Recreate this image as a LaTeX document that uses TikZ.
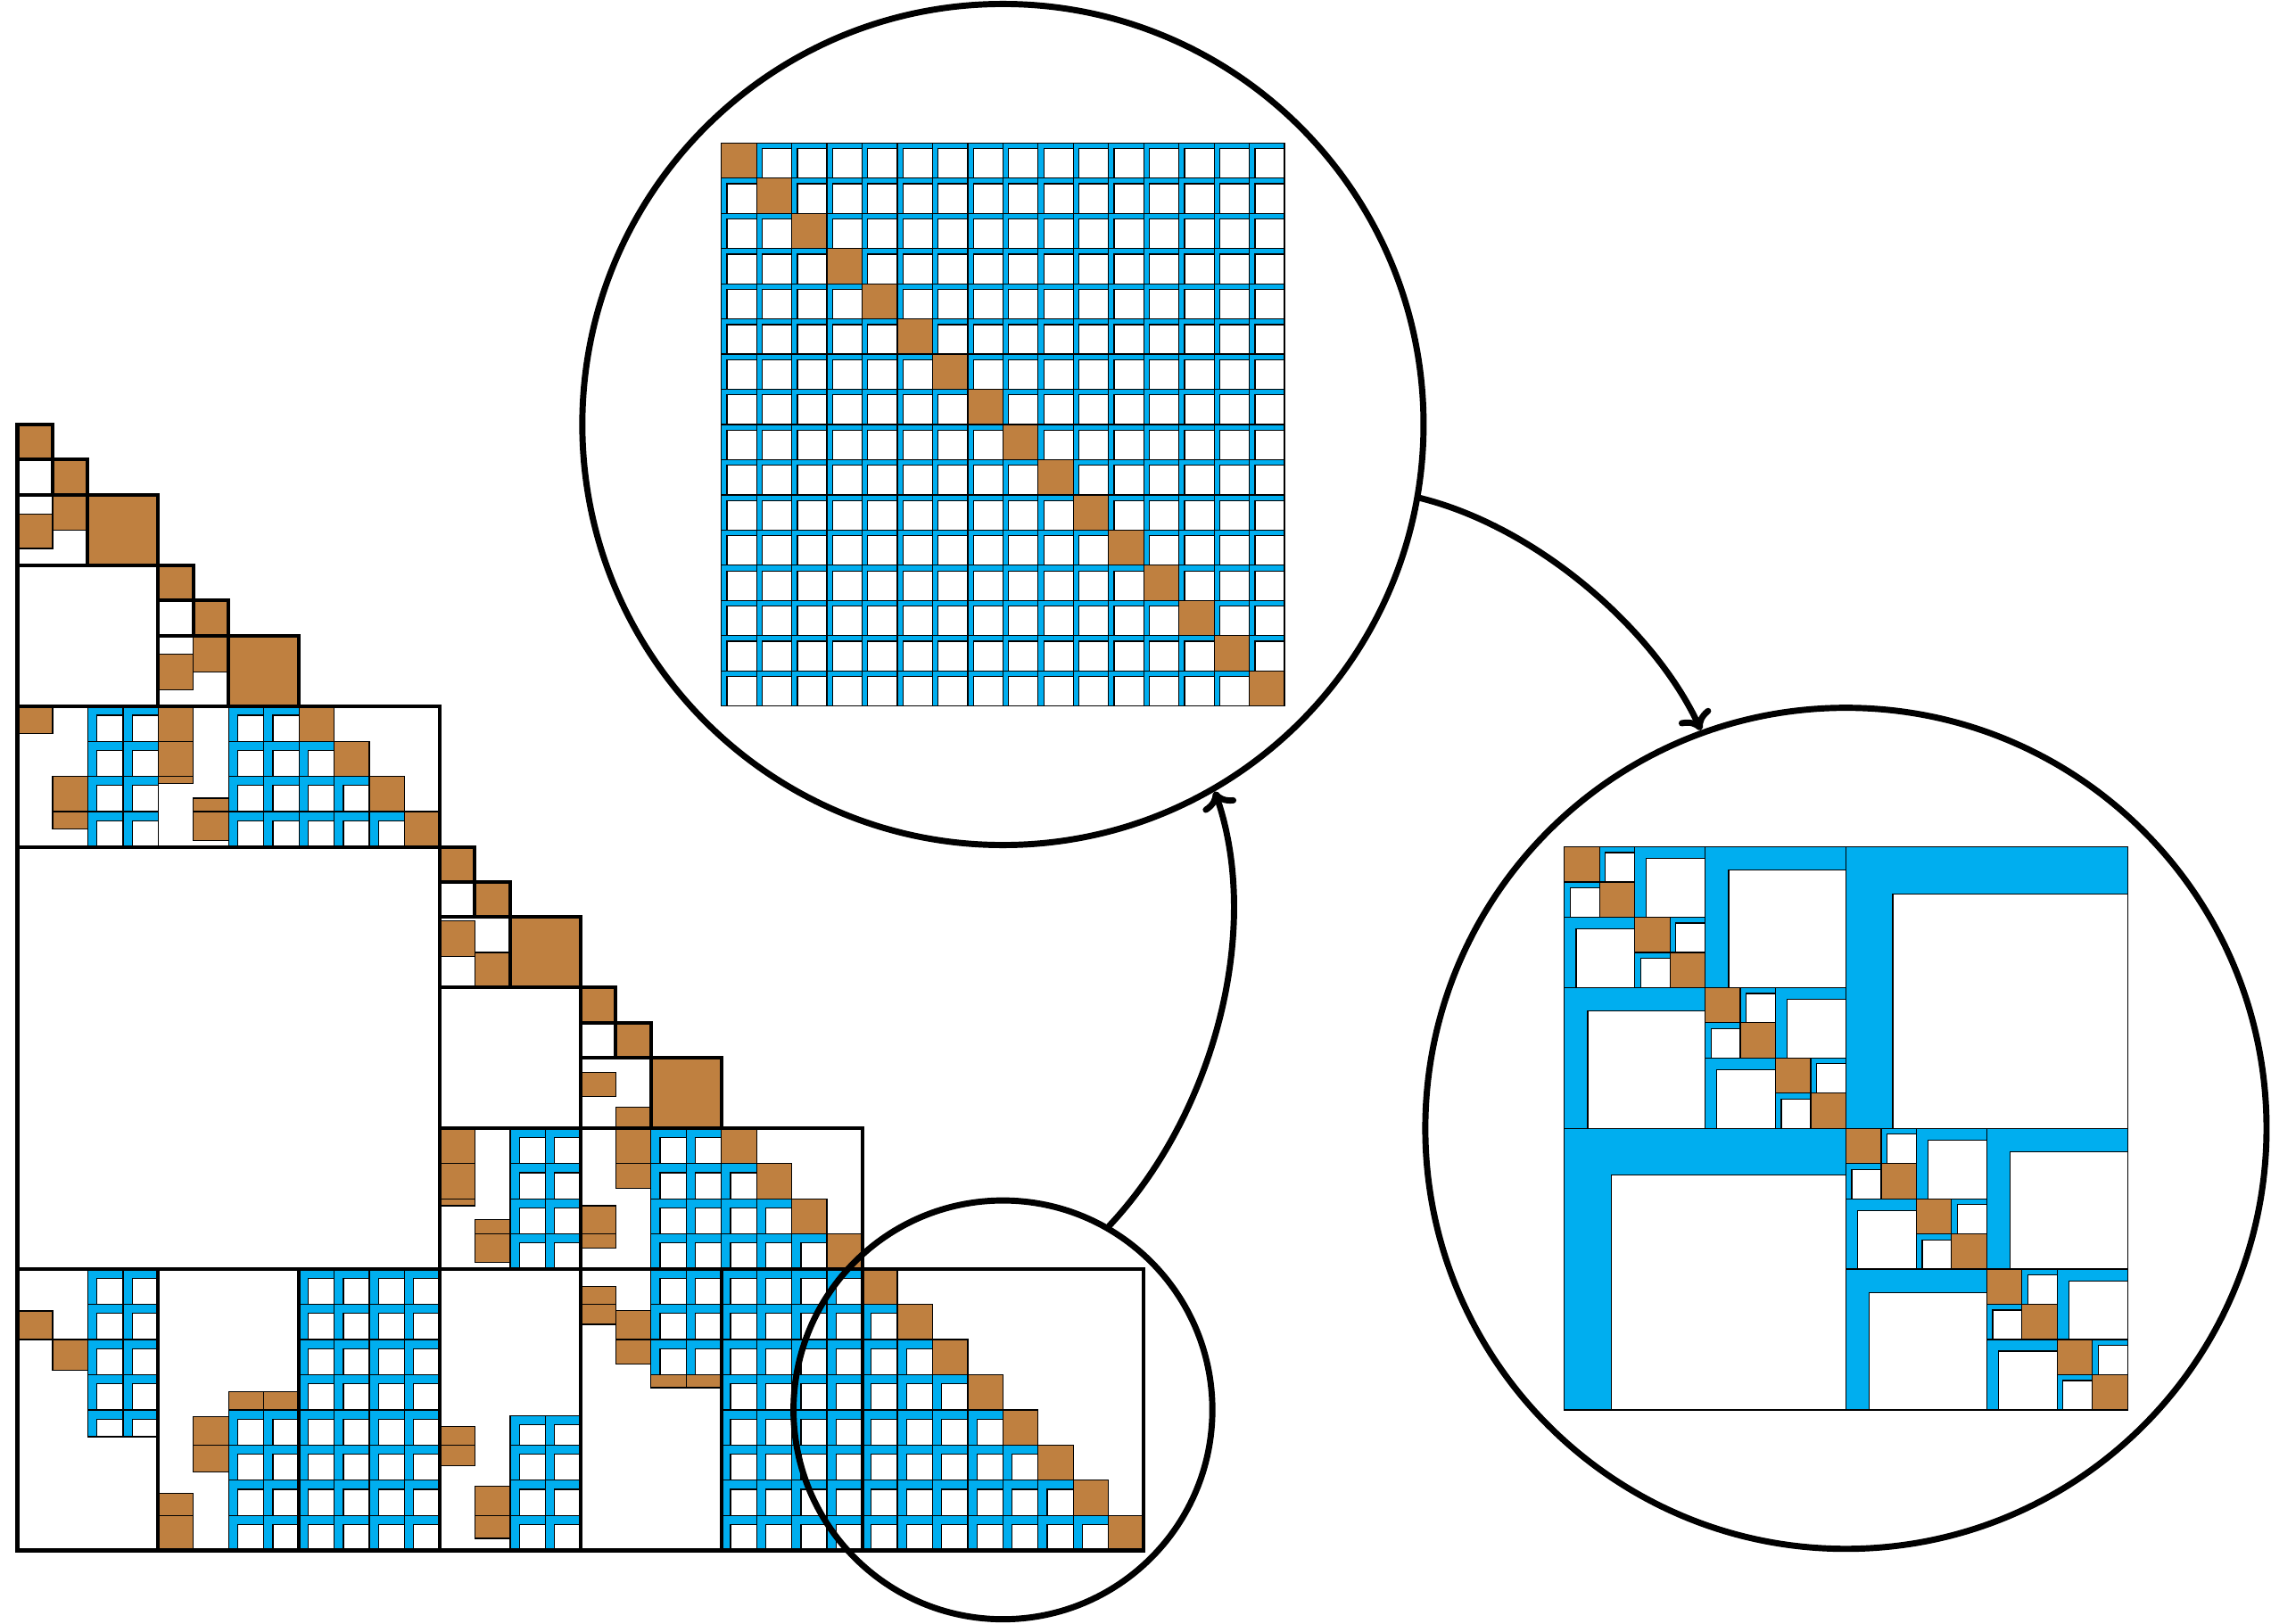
\documentclass[tikz,border=0pt]{standalone}
\usetikzlibrary{arrows.meta}
\definecolor{brn}{RGB}{191,128,64}
\definecolor{cyn}{RGB}{0,174,239}
\tikzset{
  thinln/.style={line width=0.9pt, draw=black},
  brcell/.style={thinln, fill=brn},
  blcell/.style={thinln, fill=cyn},
  whcell/.style={thinln, fill=white},
  blockln/.style={line width=2.9pt, draw=black, line join=miter},
  outerln/.style={line width=3.8pt, draw=black, line join=miter},
  ring/.style={draw, circle, line width=5pt, inner sep=0pt},
  conn/.style={line width=5pt, line cap=round, -{To[length=5mm,width=10mm]}},
}
% blue cell: column #1, rows #2..#3, strip .26
\newcommand\Bc[3]{%
  \filldraw[blcell] (#1,#2) rectangle ({#1+1},#3);
  \filldraw[whcell] ({#1+0.26},{#2+0.26}) rectangle ({#1+1},#3);}
% brown piece: column #1, rows #2..#3
\newcommand\Br[3]{\filldraw[brcell] (#1,#2) rectangle ({#1+1},#3);}
% blue grid: cols #1..#2, rows #3..#4 (inclusive)
\newcommand\Bgrid[4]{\foreach \cc in {#1,...,#2}{\foreach \rr in {#3,...,#4}{\Bc{\cc}{\rr}{\rr+1}}}}
% lower-triangular diagonal block from #1 to #2 (inclusive)
\newcommand\DTri[2]{\foreach \ii in {#1,...,#2}{\foreach \jj in {#1,...,#2}{%
  \ifnum\jj<\ii\relax \Bc{\jj}{\ii}{\ii+1}\fi
  \ifnum\jj=\ii\relax \Br{\ii}{\ii}{\ii+1}\fi}}}
\begin{document}
\begin{tikzpicture}[x=1cm,y=-1cm]
\useasboundingbox (-0.4942,-12.063) rectangle (64.027,34.085);
\fill[white] (-0.4942,-12.063) rectangle (64.027,34.085);

% ===== main lower-triangular matrix =====
\foreach \o in {0,12}{
  \Br{\o}{\o}{\o+1}
  \Br{\o+1}{\o+1}{\o+2}
  \filldraw[brcell] ({\o+2},{\o+2}) rectangle ({\o+4},{\o+4});
  \Br{\o+4}{\o+4}{\o+5}
  \Br{\o+5}{\o+5}{\o+6}
  \filldraw[brcell] ({\o+6},{\o+6}) rectangle ({\o+8},{\o+8});
}
% group A
\Br{0}{2.55}{3.52} \Br{1}{2}{3}
\Br{4}{6.52}{7.54} \Br{5}{6}{7.03}
\Br{0}{8}{8.79}
\Br{1}{10}{11} \Br{1}{11}{11.5}
\Br{4}{8}{9} \Br{4}{9}{10} \Br{4}{10}{10.2}
\Br{5}{10.62}{11} \Br{5}{11}{11.83}
\Bgrid{2}{3}{8}{11}
\Bgrid{6}{7}{8}{11}
\DTri{8}{11}
% group B
\Br{12}{14.11}{15.11} \Br{13}{15}{16}
\Br{16}{18.41}{19.09} \Br{17}{19.4}{20}
\Br{12}{20}{21} \Br{12}{21}{22} \Br{12}{22}{22.2}
\Br{13}{22.6}{23} \Br{13}{23}{23.8}
\Br{16}{22.2}{23} \Br{16}{23}{23.4}
\Br{17}{20}{21} \Br{17}{21}{21.7}
\Bgrid{14}{15}{20}{23}
\Bgrid{18}{19}{20}{23}
\DTri{20}{23}
% bottom block row 24..32
\Br{0}{25.19}{26} \Br{1}{26}{26.88}
\Bgrid{2}{3}{24}{27} \Bc{2}{28}{28.76} \Bc{3}{28}{28.76}
\Br{4}{30.37}{31} \Br{4}{31}{32}
\Br{5}{28.19}{29} \Br{5}{29}{29.77}
\Br{6}{27.49}{28} \Br{7}{27.49}{28}
\Bgrid{6}{7}{28}{31}
\Bgrid{8}{11}{24}{31}
\Br{12}{28.47}{29} \Br{12}{29}{29.58}
\Br{13}{30.17}{31} \Br{13}{31}{31.65}
\Bc{14}{28.17}{29} \Bc{15}{28.17}{29}
\Bgrid{14}{15}{29}{31}
\Br{16}{24.49}{25} \Br{16}{25}{25.57}
\Br{17}{25.17}{26} \Br{17}{26}{26.69}
\Bgrid{18}{19}{24}{26}
\Br{18}{27}{27.37} \Br{19}{27}{27.37}
\Bgrid{20}{23}{24}{31}
\DTri{24}{31}

% thick block outlines
\foreach \o in {0,12}{
  \draw[blockln] (\o,\o) rectangle ({\o+1},{\o+1});
  \draw[blockln] (\o,{\o+1}) rectangle ({\o+1},{\o+2});
  \draw[blockln] ({\o+1},{\o+1}) rectangle ({\o+2},{\o+2});
  \draw[blockln] (\o,{\o+2}) rectangle ({\o+2},{\o+4});
  \draw[blockln] ({\o+2},{\o+2}) rectangle ({\o+4},{\o+4});
  \draw[blockln] (\o,{\o+4}) rectangle ({\o+4},{\o+8});
  \draw[blockln] ({\o+4},{\o+4}) rectangle ({\o+5},{\o+5});
  \draw[blockln] ({\o+4},{\o+5}) rectangle ({\o+5},{\o+6});
  \draw[blockln] ({\o+5},{\o+5}) rectangle ({\o+6},{\o+6});
  \draw[blockln] ({\o+4},{\o+6}) rectangle ({\o+6},{\o+8});
  \draw[blockln] ({\o+6},{\o+6}) rectangle ({\o+8},{\o+8});
  \draw[blockln] (\o,{\o+8}) rectangle ({\o+12},{\o+12});
}
\draw[blockln] (16,20) -- (16,24);
\draw[blockln] (0,12) rectangle (12,24);
\foreach \a/\b in {0/4,4/8,8/12,12/16,16/20,20/24,24/32}{
  \draw[blockln] (\a,24) rectangle (\b,32);
}
\draw[outerln] (0,0) -- (0,32) -- (32,32);

% ===== top magnified matrix (16x16) =====
\foreach \ii in {0,...,15}{\foreach \jj in {0,...,15}{%
  \ifnum\ii=\jj\relax
    \filldraw[brcell] ({20+\jj},{\ii-8}) rectangle ({21+\jj},{\ii-7});
  \else
    \filldraw[blcell] ({20+\jj},{\ii-8}) rectangle ({21+\jj},{\ii-7});
    \filldraw[whcell] ({20.16+\jj},{\ii-7.84}) rectangle ({21+\jj},{\ii-7});
  \fi}}

% ===== right hierarchical (HODLR) matrix =====
\begin{scope}[xshift=43.95cm, yshift=-12cm]
\foreach \sz/\nn in {8/0,4/1,2/3,1/7}{
  \foreach \kk in {0,...,\nn}{
    \pgfmathsetmacro\pp{2*\sz*\kk}
    \pgfmathsetmacro\ee{\sz/6}
    \filldraw[blcell] ({\pp+\sz},{\pp}) rectangle ({\pp+2*\sz},{\pp+\sz});
    \filldraw[whcell] ({\pp+\sz+\ee},{\pp+\ee}) rectangle ({\pp+2*\sz},{\pp+\sz});
    \filldraw[blcell] ({\pp},{\pp+\sz}) rectangle ({\pp+\sz},{\pp+2*\sz});
    \filldraw[whcell] ({\pp+\ee},{\pp+\sz+\ee}) rectangle ({\pp+\sz},{\pp+2*\sz});
  }}
\foreach \ii in {0,...,15}{
  \filldraw[brcell] (\ii,\ii) rectangle ({\ii+1},{\ii+1});
}
\end{scope}

% ===== magnifying circles =====
\node[ring, minimum size=11.9cm] (small) at (28,28) {};
\node[ring, minimum size=23.9cm] (top) at (28,0) {};
\node[ring, minimum size=23.9cm] (right) at (51.95,20) {};

% ===== connectors =====
\draw[conn] (small.60) .. controls +(3.0,-3.2) and +(1.35,3.9) .. (top.-60);
\draw[conn] (top.-10) .. controls +(3.4,0.85) and +(-1.3,-2.8) .. (right.110);
\end{tikzpicture}
\end{document}
